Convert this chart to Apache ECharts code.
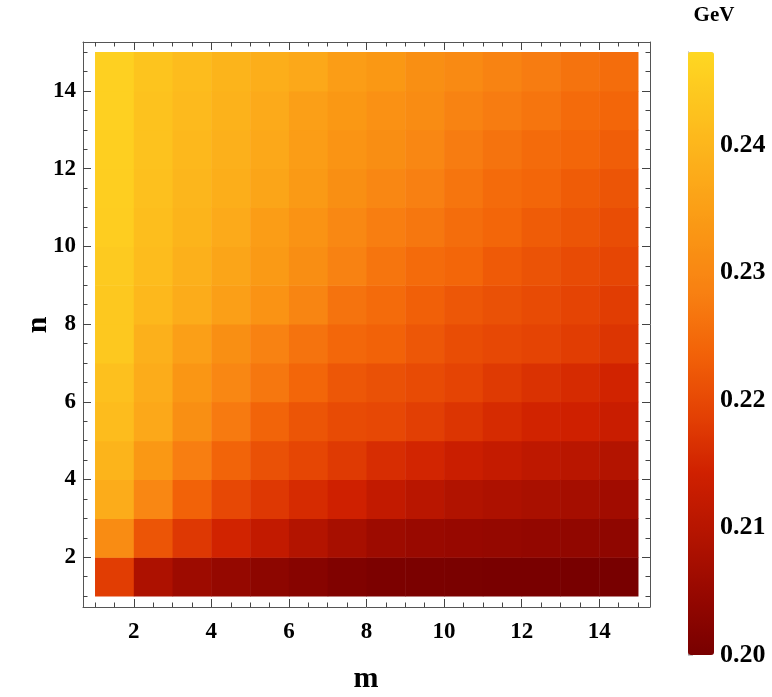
<!DOCTYPE html>
<html>
<head>
<meta charset="utf-8">
<title>m-n GeV density</title>
<script src="https://cdn.jsdelivr.net/npm/echarts@6/dist/echarts.min.js"></script>
<style>
  html, body { margin: 0; padding: 0; background: #fff; }
  #chart { width: 772px; height: 697px; }
</style>
</head>
<body>
<div id="chart"></div>
<script>
// m runs along x, n along y; each cell covers [m, m+1] x [n, n+1]
var mValues = [1, 2, 3, 4, 5, 6, 7, 8, 9, 10, 11, 12, 13, 14];
var nValues = [1, 2, 3, 4, 5, 6, 7, 8, 9, 10, 11, 12, 13, 14];

// values in GeV, one row per n (n = 1 first), m = 1..14 within a row
var row1  = [0.2182, 0.2084, 0.2058, 0.2046, 0.2033, 0.2023, 0.2013, 0.2007, 0.2005, 0.2003, 0.2002, 0.2001, 0.2000, 0.2000];
var row2  = [0.2309, 0.2217, 0.2175, 0.2146, 0.2119, 0.2093, 0.2074, 0.2058, 0.2052, 0.2049, 0.2046, 0.2043, 0.2039, 0.2036];
var row3  = [0.2378, 0.2298, 0.2237, 0.2198, 0.2175, 0.2157, 0.2142, 0.2119, 0.2104, 0.2090, 0.2084, 0.2077, 0.2071, 0.2065];
var row4  = [0.2395, 0.2335, 0.2281, 0.2239, 0.2211, 0.2195, 0.2178, 0.2160, 0.2149, 0.2134, 0.2123, 0.2112, 0.2104, 0.2093];
var row5  = [0.2413, 0.2370, 0.2316, 0.2275, 0.2239, 0.2217, 0.2203, 0.2198, 0.2185, 0.2171, 0.2157, 0.2146, 0.2142, 0.2131];
var row6  = [0.2421, 0.2378, 0.2331, 0.2298, 0.2269, 0.2243, 0.2220, 0.2211, 0.2203, 0.2192, 0.2178, 0.2167, 0.2157, 0.2146];
var row7  = [0.2439, 0.2387, 0.2351, 0.2316, 0.2288, 0.2263, 0.2245, 0.2237, 0.2220, 0.2206, 0.2198, 0.2192, 0.2182, 0.2171];
var row8  = [0.2439, 0.2404, 0.2378, 0.2351, 0.2324, 0.2295, 0.2263, 0.2251, 0.2234, 0.2220, 0.2211, 0.2203, 0.2192, 0.2182];
var row9  = [0.2444, 0.2413, 0.2387, 0.2363, 0.2339, 0.2313, 0.2288, 0.2266, 0.2251, 0.2243, 0.2225, 0.2214, 0.2203, 0.2195];
var row10 = [0.2450, 0.2417, 0.2395, 0.2375, 0.2347, 0.2324, 0.2302, 0.2281, 0.2269, 0.2254, 0.2243, 0.2228, 0.2217, 0.2206];
var row11 = [0.2453, 0.2421, 0.2400, 0.2383, 0.2363, 0.2339, 0.2316, 0.2298, 0.2284, 0.2266, 0.2251, 0.2243, 0.2228, 0.2217];
var row12 = [0.2455, 0.2426, 0.2404, 0.2387, 0.2370, 0.2347, 0.2327, 0.2313, 0.2298, 0.2278, 0.2263, 0.2251, 0.2243, 0.2231];
var row13 = [0.2457, 0.2426, 0.2409, 0.2391, 0.2375, 0.2351, 0.2335, 0.2320, 0.2309, 0.2291, 0.2278, 0.2266, 0.2251, 0.2243];
var row14 = [0.2457, 0.2430, 0.2413, 0.2395, 0.2383, 0.2370, 0.2347, 0.2335, 0.2316, 0.2306, 0.2291, 0.2278, 0.2263, 0.2254];
var rows = [row1, row2, row3, row4, row5, row6, row7, row8, row9, row10, row11, row12, row13, row14];

// frame ticks
var majorTicks = [2, 4, 6, 8, 10, 12, 14];
var minorTicks = [1, 1.5, 2.5, 3, 3.5, 4.5, 5, 5.5, 6.5, 7, 7.5, 8.5, 9, 9.5, 10.5, 11, 11.5, 12.5, 13, 13.5, 14.5, 15];

// colour bar range (GeV)
var barMin = 0.20;
var barMax = 0.2473;
var solarColors = ['#780000', '#960800', '#b41400', '#cf2000', '#e44204', '#f26208',
                   '#f88012', '#fa9614', '#fcac1a', '#fdc21e', '#fed722'];

var cells = [];
for (var i = 0; i < nValues.length; i++) {
  for (var j = 0; j < mValues.length; j++) {
    cells.push([mValues[j], nValues[i], rows[i][j]]);
  }
}

var FONT = '"Liberation Serif", "DejaVu Serif", serif';
var FRAME = '#555';

function frameAxis(pos, gridIndex, major, withLabels, isX) {
  var range = isX ? { min: 0.69, max: 15.31 } : { min: 0.72, max: 15.26 };
  return {
    type: 'value',
    gridIndex: gridIndex,
    position: pos,
    min: range.min,
    max: range.max,
    axisLine: { show: major, lineStyle: { color: FRAME, width: 1 } },
    axisTick: {
      show: true,
      inside: true,
      length: major ? 8 : 4.5,
      customValues: major ? majorTicks : minorTicks,
      lineStyle: { color: '#444', width: 1 }
    },
    axisLabel: withLabels ? {
      customValues: majorTicks,
      fontFamily: FONT,
      fontWeight: 'bold',
      fontSize: 23,
      color: '#000',
      margin: isX ? 14 : 7
    } : { show: false },
    splitLine: { show: false }
  };
}

var chart = echarts.init(document.getElementById('chart'));
chart.setOption({
  backgroundColor: '#fff',
  animation: false,
  grid: [
    { left: 83, top: 42, width: 567, height: 565 },
    { left: 83, top: 42, width: 567, height: 565 },
    { left: 688, top: 52, width: 26, height: 603 }
  ],
  xAxis: [
    frameAxis('bottom', 0, true, true, true),
    frameAxis('top', 0, true, false, true),
    frameAxis('bottom', 1, false, false, true),
    frameAxis('top', 1, false, false, true),
    { type: 'value', gridIndex: 2, show: false, min: 0, max: 1 }
  ],
  yAxis: [
    frameAxis('left', 0, true, true, false),
    frameAxis('right', 0, true, false, false),
    frameAxis('left', 1, false, false, false),
    frameAxis('right', 1, false, false, false),
    {
      type: 'value',
      gridIndex: 2,
      position: 'right',
      min: barMin,
      max: barMax,
      interval: 0.01,
      axisLine: { show: true, lineStyle: { color: '#999', width: 1 } },
      axisTick: { show: true, length: 5, lineStyle: { color: '#c8c8c8' } },
      minorTick: { show: true, splitNumber: 5, length: 4, lineStyle: { color: '#d0d0d0' } },
      axisLabel: {
        fontFamily: FONT,
        fontWeight: 'bold',
        fontSize: 26,
        color: '#000',
        margin: 6,
        showMaxLabel: false,
        formatter: function (v) { return v.toFixed(2); }
      },
      splitLine: { show: false }
    }
  ],
  visualMap: {
    type: 'continuous',
    seriesIndex: 0,
    dimension: 2,
    min: barMin,
    max: barMax,
    calculable: false,
    orient: 'vertical',
    left: 688,
    top: 52,
    padding: 0,
    itemWidth: 26,
    itemHeight: 603,
    text: null,
    inRange: { color: solarColors }
  },
  graphic: [
    {
      type: 'text',
      x: 714, y: 16,
      style: { text: 'GeV', fontFamily: FONT, fontWeight: 'bold', fontSize: 21, fill: '#000', align: 'center', verticalAlign: 'middle' }
    },
    {
      type: 'text',
      x: 366, y: 679,
      style: { text: 'm', fontFamily: FONT, fontWeight: 'bold', fontSize: 30, fill: '#000', align: 'center', verticalAlign: 'middle' }
    },
    {
      type: 'text',
      x: 38, y: 325,
      rotation: Math.PI / 2,
      style: { text: 'n', fontFamily: FONT, fontWeight: 'bold', fontSize: 30, fill: '#000', align: 'center', verticalAlign: 'middle' }
    }
  ],
  series: [
    {
      type: 'custom',
      xAxisIndex: 0,
      yAxisIndex: 0,
      encode: { x: 0, y: 1 },
      data: cells,
      renderItem: function (params, api) {
        var m = api.value(0), n = api.value(1);
        var p0 = api.coord([m, n + 1]);
        var p1 = api.coord([m + 1, n]);
        return {
          type: 'rect',
          shape: { x: p0[0], y: p0[1], width: p1[0] - p0[0] + 0.5, height: p1[1] - p0[1] + 0.5 },
          style: { fill: api.visual('color') }
        };
      }
    }
  ]
});
</script>
</body>
</html>
